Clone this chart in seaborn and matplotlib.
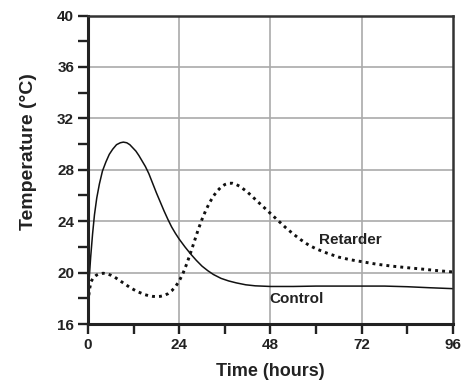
import pandas as pd
import matplotlib.pyplot as plt
import seaborn as sns
from matplotlib.ticker import MultipleLocator

# Values (time in hours, temperature in degC)
control_time = [0, 0.3, 0.7, 1.2, 1.7, 2.3, 3, 3.8, 4.7, 5.6, 6.5, 7.5, 8.5, 9.3,
                10.2, 11, 11.8, 12.6, 13.4, 14.2, 15.1, 16, 17, 18, 19, 20, 21,
                22, 23, 24, 25.5, 27, 28.5, 30, 31.5, 33, 35, 37, 39, 41.5, 44,
                48, 54, 60, 66, 72, 78, 84, 90, 96]
control_temp = [18.0, 19.5, 21.2, 23.0, 24.5, 25.8, 26.9, 27.9, 28.6, 29.2, 29.6,
                29.95, 30.1, 30.15, 30.1, 29.95, 29.7, 29.45, 29.1, 28.7, 28.25,
                27.7, 26.95, 26.2, 25.5, 24.8, 24.15, 23.55, 23.05, 22.6, 22.0,
                21.45, 20.95, 20.5, 20.15, 19.85, 19.55, 19.35, 19.2, 19.05,
                18.97, 18.92, 18.92, 18.95, 18.95, 18.95, 18.95, 18.9, 18.82, 18.75]

retarder_time = [0, 0.4, 0.8, 1.4, 2.2, 3, 4, 5, 6, 7, 8, 9, 10, 11, 12, 13, 14,
                 15, 16, 17, 18, 19, 20, 21, 22, 23, 24, 25, 26, 27, 28, 29, 30,
                 31, 32, 33, 34, 35, 36, 37, 38, 39, 40, 42, 44, 46, 48, 50, 52,
                 54, 56, 58, 60, 63, 66, 69, 72, 76, 80, 84, 88, 92, 96]
retarder_temp = [17.7, 18.7, 19.3, 19.6, 19.8, 19.9, 19.95, 19.9, 19.8, 19.65,
                 19.45, 19.25, 19.05, 18.85, 18.68, 18.52, 18.4, 18.28, 18.2,
                 18.15, 18.13, 18.15, 18.22, 18.35, 18.58, 18.9, 19.35, 19.95,
                 20.7, 21.55, 22.45, 23.35, 24.15, 24.85, 25.45, 25.95, 26.35,
                 26.65, 26.85, 26.95, 26.95, 26.85, 26.7, 26.25, 25.7, 25.15,
                 24.6, 24.05, 23.5, 23.0, 22.55, 22.15, 21.85, 21.5, 21.2, 21.0,
                 20.85, 20.65, 20.5, 20.38, 20.27, 20.15, 20.05]

x_ticks = [0, 24, 48, 72, 96]
y_ticks = [16, 20, 24, 28, 32, 36, 40]

control_df = pd.DataFrame({'Time': control_time, 'Temp': control_temp})
retarder_df = pd.DataFrame({'Time': retarder_time, 'Temp': retarder_temp})

sns.set_style('white')
plt.rcParams['font.family'] = ['Liberation Sans', 'DejaVu Sans']
plt.rcParams['font.weight'] = 'bold'
plt.rcParams['xtick.direction'] = 'out'
plt.rcParams['ytick.direction'] = 'out'
plt.rcParams['xtick.bottom'] = True
plt.rcParams['ytick.left'] = True

fig = plt.figure(figsize=(4.77, 3.81), dpi=100)
ax = fig.add_axes([0.1845, 0.1496, 0.765, 0.8097])

# Curves
sns.lineplot(data=control_df, x='Time', y='Temp', ax=ax, color='#111111',
             linewidth=1.1, sort=False, estimator=None)
sns.lineplot(data=retarder_df, x='Time', y='Temp', ax=ax, color='#111111',
             linewidth=2.1, sort=False, estimator=None)
ax.lines[1].set_linestyle((0, (1, 1.4)))
ax.lines[1].set_dash_capstyle('butt')

# Axes limits / ticks
ax.set_xlim(0, 96)
ax.set_ylim(16, 40)
ax.set_xticks(x_ticks)
ax.set_yticks(y_ticks)
ax.xaxis.set_minor_locator(MultipleLocator(12))
ax.yaxis.set_minor_locator(MultipleLocator(2))
ax.tick_params(axis='both', which='major', direction='out', length=7, width=1.7,
               color='#222222', bottom=True, left=True,
               labelsize=11, pad=3, labelcolor='#222222')
ax.tick_params(axis='both', which='minor', direction='out', length=7, width=1.7,
               color='#222222', bottom=True, left=True)
for lbl in ax.get_xticklabels() + ax.get_yticklabels():
    lbl.set_fontweight('bold')

# Grid lines at interior major ticks only
for x in x_ticks[1:-1]:
    ax.axvline(x, color='#aaaaaa', linewidth=1.2, zorder=0)
for y in y_ticks[1:-1]:
    ax.axhline(y, color='#aaaaaa', linewidth=1.2, zorder=0)

# Spines
for side in ['left', 'bottom']:
    ax.spines[side].set_linewidth(2.2)
    ax.spines[side].set_color('#222222')
for side in ['top', 'right']:
    ax.spines[side].set_linewidth(1.8)
    ax.spines[side].set_color('#333333')
    ax.spines[side].set_visible(True)

# Labels
ax.set_xlabel('Time (hours)', fontsize=13, fontweight='bold', labelpad=8, color='#222222')
ax.set_ylabel('Temperature (°C)', fontsize=14, fontweight='bold', color='#222222')
ax.yaxis.set_label_coords(-0.14, 0.56)

ax.text(60.8, 22.5, 'Retarder', fontsize=11, fontweight='bold', va='center', color='#222222')
ax.text(47.6, 17.95, 'Control', fontsize=11, fontweight='bold', va='center', color='#222222')

plt.savefig('out.png', dpi=100)
